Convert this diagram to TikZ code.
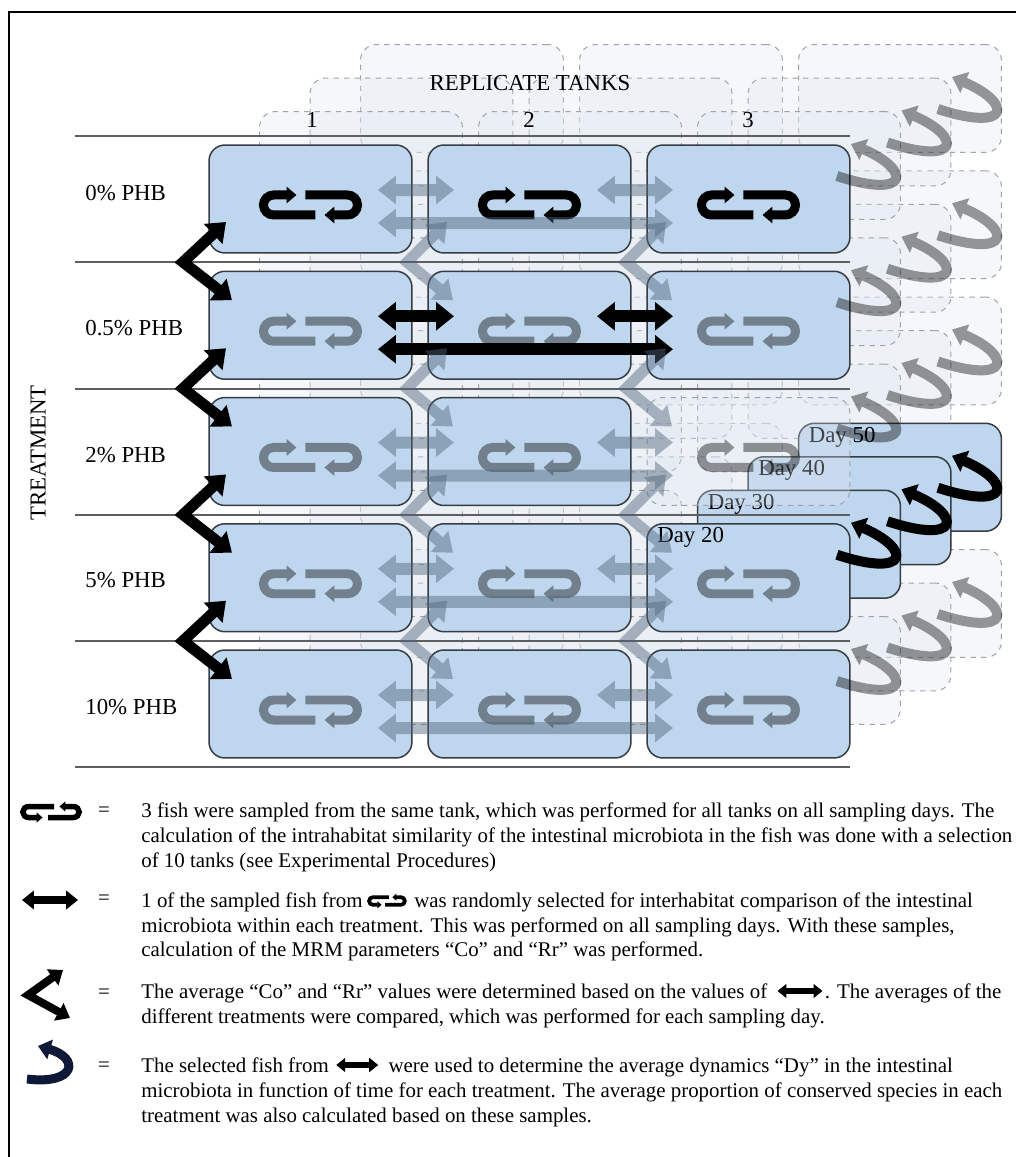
\documentclass[tikz,border=0pt]{standalone}
\usepackage{fontspec}
\setmainfont{Liberation Serif}
\usetikzlibrary{arrows.meta,calc,positioning}

\definecolor{tankblue}{RGB}{190,214,238}
\definecolor{tankline}{RGB}{55,60,66}
\definecolor{ghostfill}{RGB}{222,230,239}
\definecolor{ghostline}{RGB}{160,163,168}
\definecolor{fadeblue}{RGB}{80,100,122}
\definecolor{rulegray}{RGB}{95,95,95}
\definecolor{dyblue}{RGB}{15,25,55}

\tikzset{
  box/.style={rectangle, rounded corners=3.2mm, minimum width=4.06cm,
    minimum height=2.16cm, inner sep=0pt, outer sep=0pt},
  tank/.style={box, draw=tankline, line width=0.3mm, fill=tankblue},
  ghost/.style={box, draw=ghostline, dashed, line width=0.2mm,
    fill=ghostfill, fill opacity=0.3},
  rowline/.style={draw=rulegray, line width=0.4mm},
  fishline/.style={line cap=butt, -{Triangle[length=0pt 1.1,width=0pt 1.8]}},
  dbl/.style={line width=2.4mm,
    {Triangle[length=0pt 1.5,width=0pt 2.3]}-{Triangle[length=0pt 1.5,width=0pt 2.3]}},
  elbow/.style={line width=2.2mm,
    {Triangle[length=0pt 1.6,width=0pt 2.4]}-{Triangle[length=0pt 1.6,width=0pt 2.4]}},
  dyarrow/.style={line width=2mm, -{Triangle[length=0pt 1.4,width=0pt 2.2]}},
  txt/.style={font=\fontsize{13}{15}\selectfont, inner sep=0pt},
  legtext/.style={font=\fontsize{11.9}{14}\selectfont, anchor=base west, inner sep=0pt},
  legsym/.style={font=\fontsize{11.9}{14}\selectfont, inner sep=0pt},
}

% fish loop symbol: position, xscale, yscale, line width, colour options
\newcommand{\fishloop}[5]{%
  \begin{scope}[shift={#1}, xscale=#2, yscale=#3, #5]
    \draw[fishline, line width=#4] (5,10) -- (-37,10)
      arc[start angle=90, end angle=270, radius=10] -- (-14,-10);
    \draw[fishline, line width=#4] (-5,-10) -- (37,-10)
      arc[start angle=270, end angle=450, radius=10] -- (14,10);
  \end{scope}}

\begin{document}
\begin{tikzpicture}[x=0.02cm, y=-0.02cm]
    \useasboundingbox (0,0) rectangle (1016,1157);
    % Frame
    \draw[line width=0.35mm] (9,1157) -- (9,12) -- (1016,12);

    % Tanks of the later sampling days, faded
    \foreach \lay in {3,2,1}
      \foreach \row/\ty in {1/145,2/271.25,3/397.5,4/523.75,5/650}
        \foreach \col/\cx in {1/209,2/428,3/647}
          \node[ghost, anchor=north west] (g\lay\row\col) at (\cx+50.5*\lay,\ty-33.5*\lay) {};

    % Front tanks (day 20)
    \foreach \row/\ty in {1/145,2/271.25,3/397.5,4/523.75,5/650}
      \foreach \col/\cx in {1/209,2/428}
        \node[tank, anchor=north west] (t\row\col) at (\cx,\ty) {};
    \foreach \row/\ty in {1/145,2/271.25,5/650}
      \node[tank, anchor=north west] (t\row3) at (647,\ty) {};

    % Sampling days of one tank
    \node[tank, anchor=north west] (d50) at (798.5,423.25) {};
    \node[txt, anchor=west] at ($(d50.north west)+(10,14)$) {Day 50};
    \node[tank, anchor=north west] (d40) at (748,456.75) {};
    \node[txt, anchor=west] at ($(d40.north west)+(10,14)$) {Day 40};
    \node[tank, anchor=north west] (d30) at (697.5,490.25) {};
    \node[txt, anchor=west] at ($(d30.north west)+(10,14)$) {Day 30};
    \node[tank, anchor=north west] (t43) at (647,523.75) {};
    \node[txt, anchor=west] at ($(t43.north west)+(10,14)$) {Day 20};
    \node[ghost, anchor=north west] (t33) at (647,397.5) {};

    % Treatment rows
    \foreach \sy in {136,262,388.5,515,641,767}
      \draw[rowline] (75,\sy) -- (850,\sy);

    % Fish sampled in each tank
    \foreach \col in {1,2,3}
      \fishloop{($(t1\col.center)+(0,6)$)}{1}{1}{1.8mm}{black};
    \foreach \row in {2,...,5}
      \foreach \col in {1,2,3}
        \fishloop{($(t\row\col.center)+(0,6)$)}{1}{1}{1.8mm}{fadeblue, transparency group, opacity=0.4};

    % Comparisons between tanks
    \foreach \row in {1,3,4,5} {
      \begin{scope}[transparency group, opacity=0.45]
        \draw[dbl, fadeblue] ($(t\row1.north east)+(-34,45)$) -- ($(t\row2.north west)+(26,45)$);
      \end{scope}
      \begin{scope}[transparency group, opacity=0.45]
        \draw[dbl, fadeblue] ($(t\row2.north east)+(-34,45)$) -- ($(t\row3.north west)+(26,45)$);
      \end{scope}
      \begin{scope}[transparency group, opacity=0.45]
        \draw[dbl, fadeblue] ($(t\row1.north east)+(-34,78)$) -- ($(t\row3.north west)+(26,78)$);
      \end{scope}
    }
    \draw[dbl] ($(t21.north east)+(-34,45)$) -- ($(t22.north west)+(26,45)$);
    \draw[dbl] ($(t22.north east)+(-34,45)$) -- ($(t23.north west)+(26,45)$);
    \draw[dbl] ($(t21.north east)+(-34,78)$) -- ($(t23.north west)+(26,78)$);

    % Comparisons between treatments
    \foreach \row/\nxt in {1/2,2/3,3/4,4/5} {
      \draw[elbow] ($(t\row1.south west)+(17,-31)$)
        -- ($(t\row1.south west)!.5!(t\nxt1.north west)+(-26,0)$)
        -- ($(t\nxt1.north west)+(23,29)$);
      \foreach \col in {2,3} {
        \begin{scope}[transparency group, opacity=0.45]
          \draw[elbow, fadeblue] ($(t\row\col.south west)+(19,-31)$)
            -- ($(t\row\col.south west)!.5!(t\nxt\col.north west)+(-21,0)$)
            -- ($(t\nxt\col.north west)+(25,29)$);
        \end{scope}
      }
    }

    % Dynamics over the sampling days
    \foreach \row in {1,2,3,5}
      \foreach \lay in {0,1,2} {
        \begin{scope}[transparency group, opacity=0.4]
          \draw[dyarrow] ($(t\row3.north east)+(50.5*\lay-13,31-33.5*\lay)$)
            .. controls ($(t\row3.north east)+(50.5*\lay+60,55-33.5*\lay)$)
            and ($(t\row3.north east)+(50.5*\lay+62,25-33.5*\lay)$)
            .. ($(t\row3.north east)+(50.5*\lay+1,-1-33.5*\lay)$);
        \end{scope}
      }
    \foreach \lay in {0,1,2}
      \draw[dyarrow] ($(t43.north east)+(50.5*\lay-13,31-33.5*\lay)$)
        .. controls ($(t43.north east)+(50.5*\lay+60,55-33.5*\lay)$)
        and ($(t43.north east)+(50.5*\lay+62,25-33.5*\lay)$)
        .. ($(t43.north east)+(50.5*\lay+1,-1-33.5*\lay)$);

    % Labels
    \node[txt] (reptanks) at (530,83) {REPLICATE TANKS};
    \node[txt] (rep1) at (312,120) {1};
    \node[txt] (rep2) at (529,120) {2};
    \node[txt] (rep3) at (748,120) {3};
    \node[txt, rotate=90] (treat) at (38,453) {TREATMENT};
    \node[txt, anchor=west] (phb0) at (85,193) {0\% PHB};
    \node[txt, anchor=west] (phb05) at (85,328) {0.5\% PHB};
    \node[txt, anchor=west] (phb2) at (85,455) {2\% PHB};
    \node[txt, anchor=west] (phb5) at (85,580) {5\% PHB};
    \node[txt, anchor=west] (phb10) at (85,707) {10\% PHB};

    % Legend
    \fishloop{(51,812)}{0.6}{-0.55}{1.1mm}{black}
    \node[legsym] (eq1) at (104,812) {=};
    \node[legtext] (lg1a) at (141,817) {3 fish were sampled from the same tank, which was performed for all tanks on all sampling days. The};
    \node[legtext] (lg1b) at (141,842) {calculation of the intrahabitat similarity of the intestinal microbiota in the fish was done with a selection};
    \node[legtext] (lg1c) at (141,867) {of 10 tanks (see Experimental Procedures)};

    \draw[dbl, line width=1.6mm] (22,900) -- (78,900);
    \node[legsym] (eq2) at (104,900) {=};
    \node[legtext] (lg2a) at (141,907) {1 of the sampled fish from};
    \fishloop{($(lg2a.base east)+(24,-6)$)}{0.38}{-0.38}{0.75mm}{black}
    \node[legtext] (lg2b) at ($(lg2a.base east)+(51,0)$) {was randomly selected for interhabitat comparison of the intestinal};
    \node[legtext] (lg2c) at (141,932) {microbiota within each treatment. This was performed on all sampling days. With these samples,};
    \node[legtext] (lg2d) at (141,956) {calculation of the MRM parameters “Co” and “Rr” was performed.};

    \draw[elbow, line width=1.6mm] (63,970) -- (28,995) -- (70,1018);
    \node[legsym] (eq3) at (104,994) {=};
    \node[legtext] (lg3a) at (141,998) {The average “Co” and “Rr” values were determined based on the values of};
    \draw[dbl, line width=1.2mm] ($(lg3a.base east)+(10,-7)$) -- ($(lg3a.base east)+(55,-7)$);
    \node[legtext] (lg3b) at ($(lg3a.base east)+(57,0)$) {. The averages of the};
    \node[legtext] (lg3c) at (141,1023) {different treatments were compared, which was performed for each sampling day.};

    \draw[dyarrow, dyblue, line width=1.8mm] (27,1079) .. controls (76,1085) and (80,1058) .. (38,1046);
    \node[legsym] (eq4) at (104,1067) {=};
    \node[legtext] (lg4a) at (141,1072) {The selected fish from};
    \draw[dbl, line width=1.2mm] ($(lg4a.base east)+(7,-7)$) -- ($(lg4a.base east)+(49,-7)$);
    \node[legtext] (lg4b) at ($(lg4a.base east)+(59,0)$) {were used to determine the average dynamics “Dy” in the intestinal};
    \node[legtext] (lg4c) at (141,1097) {microbiota in function of time for each treatment. The average proportion of conserved species in each};
    \node[legtext] (lg4d) at (141,1122) {treatment was also calculated based on these samples.};
\end{tikzpicture}
\end{document}
